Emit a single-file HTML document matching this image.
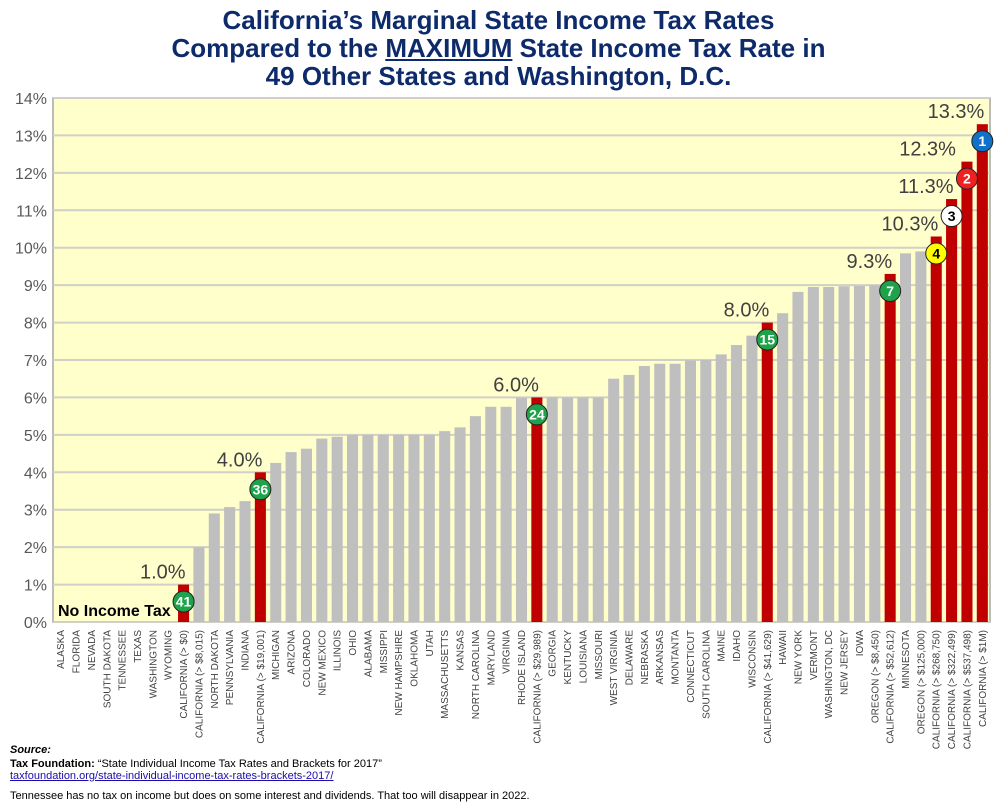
<!DOCTYPE html>
<html><head><meta charset="utf-8"><style>
body{margin:0;background:#fff;width:997px;height:805px;overflow:hidden;font-family:"Liberation Sans",sans-serif;}
#title{position:absolute;left:0;top:6px;width:997px;text-align:center;color:#0d2a6b;font-weight:bold;font-size:26px;line-height:28px;}
.foot{position:absolute;left:10px;font-size:11px;color:#000;}
</style></head><body>
<div id="title">California’s Marginal State Income Tax Rates<br>Compared to the <u>MAXIMUM</u> State Income Tax Rate in<br>49 Other States and Washington, D.C.</div>
<svg id="chart" width="997" height="805" style="position:absolute;left:0;top:0"></svg>
<div class="foot" style="top:744px;font-weight:bold;font-style:italic">Source:</div>
<div class="foot" style="top:758px"><b>Tax Foundation:</b> “State Individual Income Tax Rates and Brackets for 2017”</div>
<div class="foot" style="top:770px;color:#1a0dab;text-decoration:underline">taxfoundation.org/state-individual-income-tax-rates-brackets-2017/</div>
<div class="foot" style="top:790px">Tennessee has no tax on income but does on some interest and dividends. That too will disappear in 2022.</div>
<script>
const categories=["ALASKA","FLORIDA","NEVADA","SOUTH DAKOTA","TENNESSEE","TEXAS","WASHINGTON","WYOMING","CALIFORNIA (> $0)","CALIFORNIA (> $8,015)","NORTH DAKOTA","PENNSYLVANIA","INDIANA","CALIFORNIA (> $19,001)","MICHIGAN","ARIZONA","COLORADO","NEW MEXICO","ILLINOIS","OHIO","ALABAMA","MISSIPPI","NEW HAMPSHIRE","OKLAHOMA","UTAH","MASSACHUSETTS","KANSAS","NORTH CAROLINA","MARYLAND","VIRGINIA","RHODE ISLAND","CALIFORNIA (> $29,989)","GEORGIA","KENTUCKY","LOUISIANA","MISSOURI","WEST VIRGINIA","DELAWARE","NEBRASKA","ARKANSAS","MONTANTA","CONNECTICUT","SOUTH CAROLINA","MAINE","IDAHO","WISCONSIN","CALIFORNIA (> $41,629)","HAWAII","NEW YORK","VERMONT","WASHINGTON, DC","NEW JERSEY","IOWA","OREGON (> $8,450)","CALIFORNIA (> $52,612)","MINNESOTA","OREGON (> $125,000)","CALIFORNIA (> $268,750)","CALIFORNIA (> $322,499)","CALIFORNIA (> $537,498)","CALIFORNIA (> $1M)"];
const rates=[0,0,0,0,0,0,0,0,1.0,2.0,2.9,3.07,3.23,4.0,4.25,4.54,4.63,4.9,4.95,5.0,5,5,5,5,5,5.1,5.2,5.5,5.75,5.75,5.99,6.0,6,6,6,6,6.5,6.6,6.84,6.9,6.9,6.99,7,7.15,7.4,7.65,8.0,8.25,8.82,8.95,8.95,8.97,8.98,9.0,9.3,9.85,9.9,10.3,11.3,12.3,13.3];
const californiaFlags=[0,0,0,0,0,0,0,0,1,0,0,0,0,1,0,0,0,0,0,0,0,0,0,0,0,0,0,0,0,0,0,1,0,0,0,0,0,0,0,0,0,0,0,0,0,0,1,0,0,0,0,0,0,0,1,0,0,1,1,1,1];
const rankIndex=[8,13,31,46,54,57,58,59,60];
const rankLabels=["41","36","24","15","7","4","3","2","1"];
const rateLabels=["1.0%","4.0%","6.0%","8.0%","9.3%","10.3%","11.3%","12.3%","13.3%"];
const rankColors=["#1fa34a","#1fa34a","#1fa34a","#1fa34a","#1fa34a","#ffff00","#ffffff","#f02020","#1170c8"];
const rankText=["#fff","#fff","#fff","#fff","#fff","#000","#000","#fff","#fff"];
const yTicks=[0,1,2,3,4,5,6,7,8,9,10,11,12,13,14];

const svg=document.getElementById('chart');
const NS='http://www.w3.org/2000/svg';
const L=53,R=990,T=98,B=622,yMax=14;
const bw=(R-L)/categories.length;
const y=v=>B-(v/yMax)*(B-T);
const xc=i=>L+(i+0.5)*bw;
function mk(t,a){const e=document.createElementNS(NS,t);for(const k in a)e.setAttribute(k,a[k]);svg.appendChild(e);return e;}

const bg=mk('rect',{x:L,y:T,width:R-L,height:B-T,fill:'#ffffcc',stroke:'#a6a6a6','stroke-width':1.5});


yTicks.forEach(t=>{
  const g=mk('line',{x1:L,x2:R,y1:y(t),y2:y(t),stroke:'#d0d0c8','stroke-width':2});
  
  
  const tx=mk('text',{x:L-6,y:y(t)+6,'text-anchor':'end','font-size':16,fill:'#595959'});
  tx.textContent=t+'%';
  
  
});
rates.forEach((v,i)=>{
  const w=bw*0.72;
  const r=mk('rect',{x:xc(i)-w/2,y:y(v),width:w,height:B-y(v),fill:californiaFlags[i]?'#c00000':'#bfbfbf'});
  
  
  const lb=mk('text',{transform:`translate(${xc(i)+3.5},${B+8}) rotate(-90)`,'text-anchor':'end','font-size':10,fill:'#404040'});
  lb.textContent=categories[i];
  
  
});
rankIndex.forEach((idx,k)=>{
  const v=rates[idx];
  const shift=(k===7)?-11:2;
  const lt=mk('text',{x:xc(idx)+shift,y:y(v)-6,'text-anchor':'end','font-size':20,fill:'#404040'});
  lt.textContent=rateLabels[k];
  
  
  const cy=y(v)+17;
  const c=mk('circle',{cx:xc(idx),cy:cy,r:10.5,fill:rankColors[k],stroke:'#222','stroke-width':1});
  
  
  const ct=mk('text',{x:xc(idx),y:cy+5,'text-anchor':'middle','font-size':14,'font-weight':'bold',fill:rankText[k]});
  ct.textContent=rankLabels[k];
  
  
});
const nt=mk('text',{x:58,y:616,'font-size':16,'font-weight':'bold',fill:'#000'});
nt.textContent='No Income Tax';


</script>
</body></html>
